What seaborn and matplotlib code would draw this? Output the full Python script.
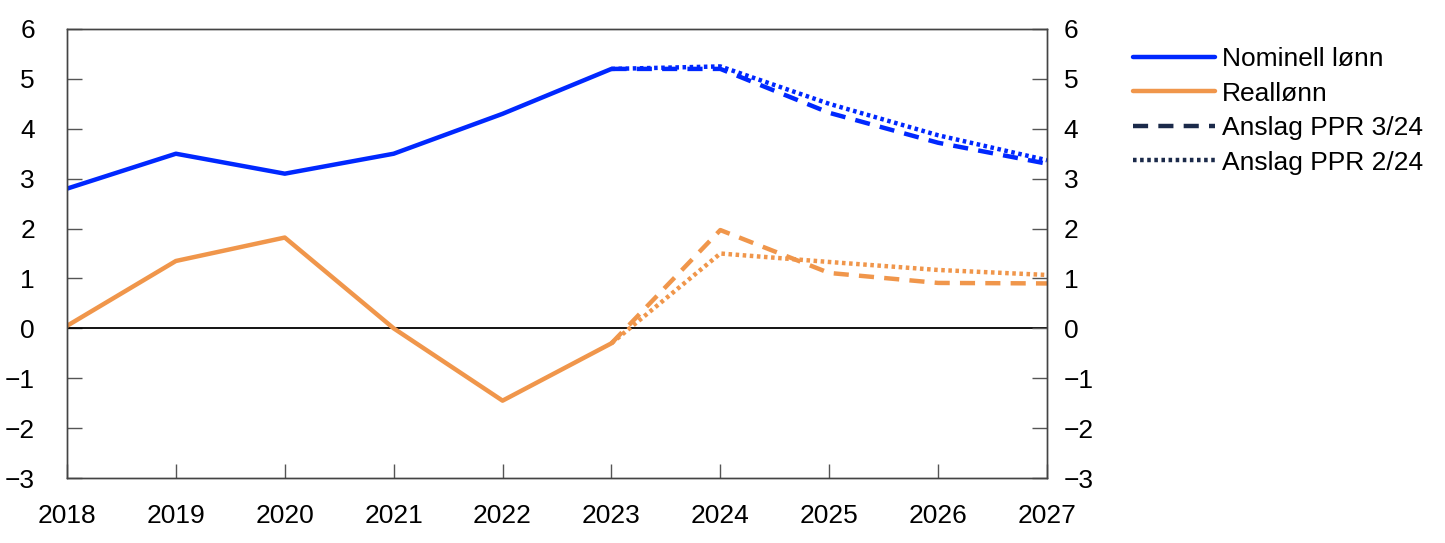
import matplotlib
matplotlib.use("Agg")
import matplotlib.pyplot as plt
from matplotlib.lines import Line2D
import seaborn as sns
import pandas as pd

years_hist = [2018, 2019, 2020, 2021, 2022, 2023]
years_fc = [2023, 2024, 2025, 2026, 2027]

nominell_hist = [2.8, 3.5, 3.1, 3.5, 4.3, 5.2]
nominell_ppr3 = [5.2, 5.2, 4.32, 3.72, 3.3]
nominell_ppr2 = [5.2, 5.25, 4.5, 3.87, 3.37]

real_hist = [0.05, 1.35, 1.82, 0.0, -1.45, -0.3]
real_ppr3 = [-0.3, 1.97, 1.11, 0.91, 0.9]
real_ppr2 = [-0.3, 1.5, 1.33, 1.17, 1.07]

legend_labels = ["Nominell lønn", "Reallønn", "Anslag PPR 3/24", "Anslag PPR 2/24"]
yticks = [-3, -2, -1, 0, 1, 2, 3, 4, 5, 6]
xticks = [2018, 2019, 2020, 2021, 2022, 2023, 2024, 2025, 2026, 2027]

BLUE = "#0028FF"
ORANGE = "#F0964B"
NAVY = "#1B2A4A"

sns.set_style("white")
plt.rcParams["font.family"] = ["Liberation Sans", "DejaVu Sans"]
plt.rcParams["text.color"] = "black"

fig = plt.figure(figsize=(14.45, 5.43), dpi=100)
ax = fig.add_axes([67 / 1445, 65 / 543, 980 / 1445, 449 / 543])

lw = 3.2
dash = (0, (3.4, 2.3))
dot = (0, (0.8, 0.8))
ax.axhline(0, color="black", lw=1.3, zorder=1)

sns.lineplot(x=years_hist, y=nominell_hist, ax=ax, color=BLUE, lw=lw)
sns.lineplot(x=years_fc, y=nominell_ppr3, ax=ax, color=BLUE, lw=lw, linestyle=dash)
sns.lineplot(x=years_fc, y=nominell_ppr2, ax=ax, color=BLUE, lw=lw, linestyle=dot)
sns.lineplot(x=years_hist, y=real_hist, ax=ax, color=ORANGE, lw=lw)
sns.lineplot(x=years_fc, y=real_ppr3, ax=ax, color=ORANGE, lw=lw, linestyle=dash)
sns.lineplot(x=years_fc, y=real_ppr2, ax=ax, color=ORANGE, lw=lw, linestyle=dot)

ylabels = [("\u2212" + str(-t)) if t < 0 else str(t) for t in yticks]

ax.set_xlim(2018, 2027)
ax.set_ylim(-3, 6)
ax.set_xticks(xticks)
ax.set_xticklabels([str(x) for x in xticks])
ax.set_yticks(yticks)
ax.set_yticklabels(ylabels)

ax2 = ax.twinx()
ax2.set_ylim(-3, 6)
ax2.set_yticks(yticks)
ax2.set_yticklabels(ylabels)

fs = 19
ax.tick_params(axis="y", direction="in", length=11, width=1, color="#555555",
               labelsize=fs, labelcolor="black", pad=23)
ax2.tick_params(axis="y", direction="in", length=11, width=1, color="#555555",
                labelsize=fs, labelcolor="black", pad=12)
ax.tick_params(axis="x", direction="in", length=10, width=1, color="#555555",
               bottom=True, labelsize=fs, labelcolor="black", pad=19)
for a in (ax, ax2):
    for s in a.spines.values():
        s.set_color("#444444")
        s.set_linewidth(1.0)

handles = [
    Line2D([], [], color=BLUE, lw=lw),
    Line2D([], [], color=ORANGE, lw=lw),
    Line2D([], [], color=NAVY, lw=lw, linestyle=dash),
    Line2D([], [], color=NAVY, lw=lw, linestyle=dot),
]
leg = ax2.legend(handles, legend_labels, loc="upper left", bbox_to_anchor=(1.088, 0.96),
                 frameon=False, fontsize=fs, handlelength=3.1, handletextpad=0.27,
                 labelspacing=0.4, borderaxespad=0, borderpad=0)
for t in leg.get_texts():
    t.set_color("black")

fig.savefig("out.png", dpi=100)
